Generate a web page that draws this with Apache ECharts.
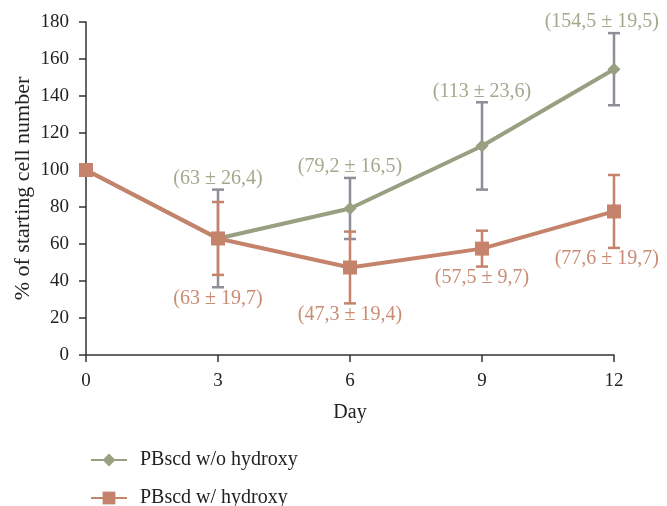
<!DOCTYPE html>
<html>
<head>
<meta charset="utf-8">
<script src="https://cdn.jsdelivr.net/npm/echarts@6/dist/echarts.min.js"></script>
<style>
  html, body { margin: 0; padding: 0; background: #fff; }
  #chart { width: 667px; height: 506px; }
</style>
</head>
<body>
<div id="chart"></div>
<script>
// 数据
const days = [0, 3, 6, 9, 12];
const yTicks = [0, 20, 40, 60, 80, 100, 120, 140, 160, 180];
const noHydroxyMean = [100, 63, 79.2, 113, 154.5];
const noHydroxySd = [null, 26.4, 16.5, 23.6, 19.5];
const hydroxyMean = [100, 63, 47.3, 57.5, 77.6];
const hydroxySd = [null, 19.7, 19.4, 9.7, 19.7];
const seriesNames = ["PBscd w/o hydroxy", "PBscd w/ hydroxy"];

const FONT = "Liberation Serif";
const LABEL_FONT = "20px '" + FONT + "'";
const GREEN = "#98a082";
const GREEN_TEXT = "#a3a98c";
const GRAY = "#8c8f97";
const ORANGE = "#c5836b";
const ORANGE_TEXT = "#c98b73";

const fmt = (v) => String(v).replace(".", ",");

// 量文字宽度, 防止标签超出右边
const measureCtx = document.createElement("canvas").getContext("2d");
function textWidth(t) {
  measureCtx.font = LABEL_FONT;
  return measureCtx.measureText(t).width;
}

let chart = echarts.init(document.getElementById("chart"));
const chartWidth = 667;

// 误差线 + 标签
function errorBars(mean, sd, color, textColor, above) {
  return {
    type: "custom",
    data: days.map((d, i) => [d, mean[i], sd[i]]),
    renderItem(params, api) {
      const i = params.dataIndex;
      if (sd[i] == null) return null;
      const x = api.coord([days[i], 0])[0];
      const yHi = api.coord([days[i], mean[i] + sd[i]])[1];
      const yLo = api.coord([days[i], mean[i] - sd[i]])[1];
      const w = 6;
      const children = [
        { type: "line", shape: { x1: x, y1: yHi, x2: x, y2: yLo }, style: { stroke: color, lineWidth: 2.5 } },
        { type: "line", shape: { x1: x - w, y1: yHi, x2: x + w, y2: yHi }, style: { stroke: color, lineWidth: 2.5 } },
        { type: "line", shape: { x1: x - w, y1: yLo, x2: x + w, y2: yLo }, style: { stroke: color, lineWidth: 2.5 } },
      ];
      // 标签放在两组误差线的外侧
      let ty;
      if (above) {
        const top = Math.max(
          noHydroxyMean[i] + (noHydroxySd[i] || 0),
          hydroxyMean[i] + (hydroxySd[i] || 0)
        );
        ty = api.coord([days[i], top])[1] - 1;
      } else {
        const bot = Math.min(
          noHydroxyMean[i] - (noHydroxySd[i] || 0),
          hydroxyMean[i] - (hydroxySd[i] || 0)
        );
        ty = api.coord([days[i], bot])[1] + 1;
      }
      const text = "(" + fmt(mean[i]) + " ± " + fmt(sd[i]) + ")";
      const tw = textWidth(text);
      const tx = Math.min(x, chartWidth - 8 - tw / 2);
      children.push({
        type: "text",
        style: {
          text: text,
          x: tx,
          y: ty,
          fill: textColor,
          font: LABEL_FONT,
          align: "center",
          verticalAlign: above ? "bottom" : "top",
        },
      });
      return { type: "group", children };
    },
    silent: true,
  };
}

const legendBase = {
  orient: "vertical",
  left: 85,
  itemWidth: 36,
  itemHeight: 16,
  textStyle: { fontFamily: FONT, fontSize: 20, color: "#222", padding: [0, 0, 0, 8] },
};

let option = {
  animation: false,
  textStyle: { fontFamily: FONT },
  grid: { left: 86, right: 53, top: 22, bottom: 151 },
  legend: [
    Object.assign({}, legendBase, { top: 445, data: [seriesNames[0]] }),
    Object.assign({}, legendBase, { top: 483, data: [seriesNames[1]] }),
  ],
  xAxis: {
    type: "value",
    min: 0,
    max: 12,
    interval: 3,
    name: "Day",
    nameLocation: "middle",
    nameGap: 48,
    nameTextStyle: { fontFamily: FONT, fontSize: 20, color: "#222" },
    axisLine: { lineStyle: { color: "#333", width: 1.5 } },
    axisTick: { show: true, length: 7, lineStyle: { color: "#333", width: 1.5 } },
    axisLabel: { fontFamily: FONT, fontSize: 19, color: "#222", margin: 17 },
    splitLine: { show: false },
  },
  yAxis: {
    type: "value",
    min: yTicks[0],
    max: yTicks[yTicks.length - 1],
    interval: yTicks[1] - yTicks[0],
    name: "% of starting cell number",
    nameLocation: "middle",
    nameGap: 52,
    nameMoveOverlap: false,
    nameTextStyle: { fontFamily: FONT, fontSize: 22, color: "#222" },
    axisLine: { show: true, lineStyle: { color: "#333", width: 1.5 } },
    axisTick: { show: true, length: 7, lineStyle: { color: "#333", width: 1.5 } },
    axisLabel: { fontFamily: FONT, fontSize: 19, color: "#222", margin: 17 },
    splitLine: { show: false },
  },
  series: [
    {
      name: seriesNames[0],
      type: "line",
      data: days.map((d, i) => [d, noHydroxyMean[i]]),
      symbol: "diamond",
      symbolSize: 13,
      lineStyle: { color: GREEN, width: 4 },
      itemStyle: { color: GREEN },
    },
    errorBars(noHydroxyMean, noHydroxySd, GRAY, GREEN_TEXT, true),
    {
      name: seriesNames[1],
      type: "line",
      data: days.map((d, i) => [d, hydroxyMean[i]]),
      symbol: "rect",
      symbolSize: 14,
      lineStyle: { color: ORANGE, width: 4 },
      itemStyle: { color: ORANGE },
    },
    errorBars(hydroxyMean, hydroxySd, ORANGE, ORANGE_TEXT, false),
  ],
};

chart.setOption(option);
</script>
</body>
</html>
